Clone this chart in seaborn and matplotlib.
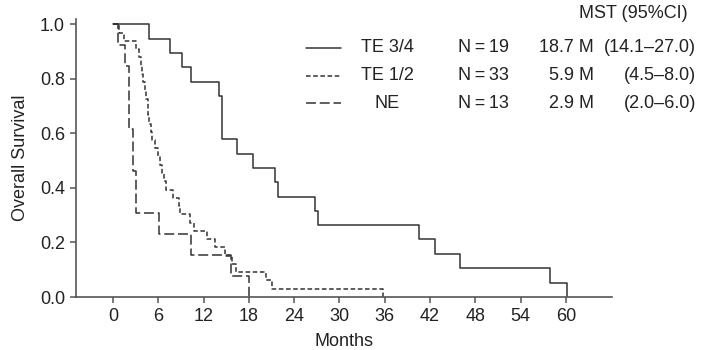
import matplotlib
matplotlib.use("Agg")
import matplotlib.pyplot as plt
from matplotlib.lines import Line2D
import pandas as pd
import seaborn as sns

# Kaplan-Meier steps (time in months, survival after that time)
te34_time = [0, 4.8, 7.5, 9.2, 10.3, 14.0, 14.5, 16.4, 18.6, 21.5, 21.9, 26.8, 27.1,
             40.5, 42.6, 46.0, 57.9, 60.2]
te34_surv = [1.0, 0.947, 0.895, 0.842, 0.789, 0.737, 0.579, 0.526, 0.474, 0.421, 0.368,
             0.316, 0.263, 0.211, 0.158, 0.105, 0.053, 0.0]

te12_time = [0, 0.8, 1.4, 3.1, 3.4, 3.7, 3.9, 4.0, 4.2, 4.4, 4.6, 4.7, 4.8, 5.0, 5.1,
             5.6, 5.9, 6.2, 6.5, 6.7, 7.0, 8.0, 8.7, 8.9, 10.2, 10.7, 12.5, 13.5, 14.8,
             15.7, 16.3, 20.3, 21.0, 35.7]
te12_surv = [1.0, 0.970, 0.939, 0.909, 0.879, 0.848, 0.818, 0.788, 0.758, 0.727, 0.697,
             0.667, 0.636, 0.606, 0.576, 0.545, 0.515, 0.485, 0.455, 0.424, 0.394, 0.364,
             0.333, 0.303, 0.273, 0.242, 0.212, 0.182, 0.152, 0.121, 0.091, 0.061, 0.030,
             0.0]

ne_time = [0, 0.7, 1.6, 2.1, 2.7, 3.1, 6.1, 10.3, 15.6, 18.0]
ne_surv = [1.0, 0.923, 0.846, 0.615, 0.462, 0.308, 0.231, 0.154, 0.077, 0.0]

groups = ["TE 3/4", "TE 1/2", "NE"]
n_values = ["N\u2009=\u200919", "N\u2009=\u200933", "N\u2009=\u200913"]
mst_values = ["18.7 M", "5.9 M", "2.9 M"]
ci_values = ["(14.1\u201327.0)", "(4.5\u20138.0)", "(2.0\u20136.0)"]

x_ticks = list(range(0, 61, 6))
y_ticks = [0.0, 0.2, 0.4, 0.6, 0.8, 1.0]

df = pd.concat([
    pd.DataFrame({"Months": te34_time, "Survival": te34_surv, "Group": "TE 3/4"}),
    pd.DataFrame({"Months": te12_time, "Survival": te12_surv, "Group": "TE 1/2"}),
    pd.DataFrame({"Months": ne_time, "Survival": ne_surv, "Group": "NE"}),
], ignore_index=True)

sns.set_style("ticks")
plt.rcParams["font.family"] = ["Liberation Sans", "DejaVu Sans"]

LINE = "#333333"
AXIS = "#555555"
TEXT = "#222222"
LW = 1.1
dash_map = {"TE 3/4": "", "TE 1/2": (3, 1.7), "NE": (6.5, 2.5)}

fig = plt.figure(figsize=(7.02, 3.5), dpi=100)
ax = fig.add_axes([0.1083, 0.1514, 0.7635, 0.7946])

sns.lineplot(data=df, x="Months", y="Survival", style="Group", style_order=groups,
             dashes=dash_map, color=LINE, linewidth=LW, drawstyle="steps-post",
             estimator=None, sort=False, legend=False, ax=ax)

ax.set_xlim(-4.9, 66.1)
ax.set_ylim(0, 1.02)
ax.set_xticks(x_ticks)
ax.set_yticks(y_ticks)
ax.set_yticklabels([f"{v:.1f}" for v in y_ticks])
ax.tick_params(axis="both", colors=AXIS, labelcolor=TEXT, labelsize=13,
               length=4.5, width=1.1, direction="out")
for side in ["top", "right"]:
    ax.spines[side].set_visible(False)
for side in ["left", "bottom"]:
    ax.spines[side].set_color(AXIS)
    ax.spines[side].set_linewidth(1.2)
ax.set_xlabel("Months", fontsize=13, color=TEXT, labelpad=6)
ax.set_ylabel("Overall Survival", fontsize=13, color=TEXT, labelpad=8)


def fx(px):
    return px / 702


def fy(py):
    return 1 - py / 350


# table-style legend in the upper right
fig.text(fx(688), fy(13), "MST (95%CI)", ha="right", va="center", fontsize=13, color=TEXT)
row_y = [48, 76, 103]
for g, n, m, ci, y in zip(groups, n_values, mst_values, ci_values, row_y):
    dash = dash_map[g]
    line = Line2D([fx(306), fx(341)], [fy(y), fy(y)], transform=fig.transFigure,
                  color=LINE, linewidth=LW)
    if dash:
        line.set_dashes(dash)
    fig.add_artist(line)
    fig.text(fx(387), fy(y), g, ha="center", va="center", fontsize=13, color=TEXT)
    fig.text(fx(458), fy(y), n, ha="left", va="center", fontsize=13, color=TEXT)
    fig.text(fx(594), fy(y), m, ha="right", va="center", fontsize=13, color=TEXT)
    fig.text(fx(696), fy(y), ci, ha="right", va="center", fontsize=13, color=TEXT)

fig.savefig("out.png", dpi=100)
